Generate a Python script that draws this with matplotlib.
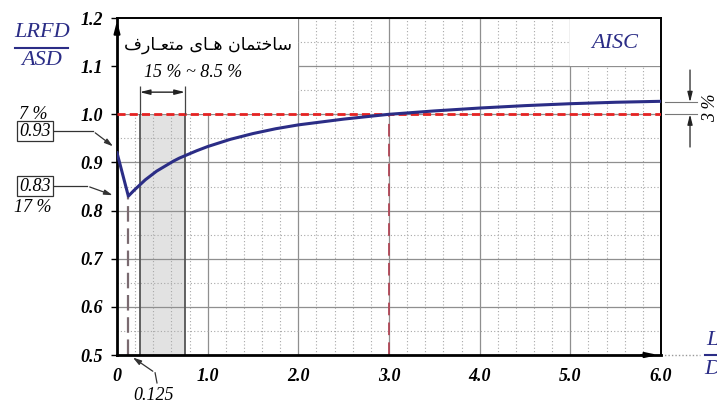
import numpy as np
import matplotlib.pyplot as plt
from matplotlib.patches import Rectangle

# داده ها: نسبت LRFD/ASD بر حسب L/D (خوانده شده از نمودار)
LD = [0, 0.125, 0.1875, 0.25, 0.3125, 0.375, 0.4375, 0.5, 0.5625, 0.625, 0.6875, 0.75,
      0.875, 1.0, 1.25, 1.5, 1.75, 2.0, 2.5, 3.0, 3.5, 4.0, 4.5, 5.0, 5.5, 6.0]
ratio = [0.92, 0.83, 0.842, 0.853, 0.864, 0.873, 0.882, 0.889, 0.896, 0.903, 0.909, 0.914,
         0.924, 0.933, 0.948, 0.96, 0.97, 0.978, 0.99, 1.0,
         1.007, 1.013, 1.018, 1.022, 1.025, 1.027]

x_ticks = [0, 1, 2, 3, 4, 5, 6]
x_labels = ['0', '1.0', '2.0', '3.0', '4.0', '5.0', '6.0']
y_ticks = [0.5, 0.6, 0.7, 0.8, 0.9, 1.0, 1.1, 1.2]
y_labels = ['0.5', '0.6', '0.7', '0.8', '0.9', '1.0', '1.1', '1.2']

LD_min, ratio_min = 0.125, 0.83      # کمینه
ratio_start = 0.93
common_lo, common_hi = 0.25, 0.75     # ساختمان های متعارف
LD_equal = 3.0                        # LRFD = ASD
ratio_end = 1.025

# ساختمان هـای متعـارف  (presentation forms, visual order)
farsi = '\uFED1\uFEAD\uFE8E\u0640\uFECC\uFE98\uFEE3 \uFBFC\uFE8E\u0640\uFEEB \uFEE5\uFE8E\uFEE4\uFE98\uFEA7\uFE8E\uFEB3'

blue = '#2b2d86'
serif = 'Liberation Serif'
lab = dict(fontfamily=serif, fontstyle='italic', fontsize=13)

fig = plt.figure(figsize=(7.17, 4.03), dpi=100)
ax = fig.add_axes([0.1632, 0.1191, 0.7587, 0.8362])
ax.set_xlim(0, 6)
ax.set_ylim(0.5, 1.2)

# شبکه
ax.set_axisbelow(True)
ax.set_xticks(x_ticks)
ax.set_yticks(y_ticks)
ax.set_xticks(np.arange(0.2, 6, 0.2), minor=True)
ax.set_yticks(np.arange(0.55, 1.2, 0.1), minor=True)
ax.grid(which='major', color='#8f8f8f', lw=0.9)
ax.grid(which='minor', color='#a8a8a8', lw=0.8, linestyle=(0, (1, 2)))

# ناحیه ساختمان های متعارف
ax.add_patch(Rectangle((common_lo, 0.5), common_hi - common_lo, 0.5, facecolor='#e2e2e2',
                       edgecolor='none', zorder=0.3))
ax.vlines([common_lo, common_hi], 0.5, 1.0, color='#555555', lw=1.3, zorder=1.5)
# نواحی سفید پشت متن ها
ax.add_patch(Rectangle((0, 1.0), 2.0, 0.2, facecolor='white', edgecolor='none', zorder=0.6))
ax.add_patch(Rectangle((5.0, 1.1), 1.0, 0.1, facecolor='white', edgecolor='none', zorder=0.6))

ax.set_xticklabels(x_labels, fontweight='bold', **lab)
ax.set_yticklabels(y_labels, fontweight='bold', **lab)
ax.tick_params(axis='y', which='major', length=4, width=1, pad=6)
ax.tick_params(axis='x', which='major', length=0, pad=9)
ax.tick_params(which='minor', length=0)

for s in ['left', 'bottom']:
    ax.spines[s].set_linewidth(2)
for s in ['top', 'right']:
    ax.spines[s].set_linewidth(1.4)

# خطوط مرجع
ax.axhline(1.0, color='#e52222', lw=2, linestyle=(0, (2.9, 1.5)), zorder=3)
ax.vlines(LD_equal, 0.5, 1.0, color='#b04555', lw=1.3, linestyles=(0, (7, 4)), zorder=2)
ax.vlines(LD_min, 0.5, ratio_min, color='#7a6a70', lw=1.6, linestyles=(0, (7, 3)), zorder=2)

# منحنی
ax.plot(LD, ratio, color=blue, lw=2.2, zorder=4, solid_joinstyle='round')

# پیکان محورها
ax.annotate('', xy=(0, 1.2), xytext=(0, 1.16),
            arrowprops=dict(arrowstyle='-|>,head_length=0.7,head_width=0.18', color='k', lw=1.5),
            annotation_clip=False)
ax.annotate('', xy=(6.0, 0.5), xytext=(5.75, 0.5),
            arrowprops=dict(arrowstyle='-|>,head_length=0.7,head_width=0.15', color='k', lw=1.5),
            annotation_clip=False)
ax.plot([6.0, 6.43], [0.5, 0.5], color='#999999', lw=1, linestyle=(0, (1, 1.5)), clip_on=False)

# برچسب محورها
big = dict(color=blue, fontfamily=serif, fontstyle='italic', fontsize=16, ha='center', va='center')
ax.text(-0.83, 1.169, 'LRFD', **big)
ax.plot([-1.13, -0.54], [1.138, 1.138], color=blue, lw=1.5, clip_on=False)
ax.text(-0.83, 1.111, 'ASD', **big)
ax.text(6.57, 0.531, 'L', **big)
ax.plot([6.48, 6.7], [0.5, 0.5], color=blue, lw=1.5, clip_on=False)
ax.text(6.57, 0.469, 'D', **big)
ax.text(5.49, 1.148, 'AISC', **big)

# مقادیر کمینه و شروع
box = dict(boxstyle='square,pad=0.1', facecolor='white', edgecolor='#333333', lw=0.9)
arr = dict(arrowstyle='-|>,head_length=0.5,head_width=0.15', color='#333333', lw=0.9)
ax.text(-0.926, 0.999, '7 %', ha='center', va='center', **lab)
ax.text(-0.904, 0.965, f'{ratio_start:.2f}', ha='center', va='center', bbox=box, **lab)
ax.plot([-0.69, -0.265], [0.965, 0.965], color='#333333', lw=0.9, clip_on=False)
ax.annotate('', xy=(-0.02, ratio_start), xytext=(-0.265, 0.965), arrowprops=arr,
            annotation_clip=False)

ax.text(-0.904, 0.851, f'{ratio_min:.2f}', ha='center', va='center', bbox=box, **lab)
ax.text(-0.926, 0.807, '17 %', ha='center', va='center', **lab)
ax.plot([-0.69, -0.33], [0.851, 0.851], color='#333333', lw=0.9, clip_on=False)
ax.annotate('', xy=(-0.02, ratio_min), xytext=(-0.33, 0.851), arrowprops=arr,
            annotation_clip=False)

ax.text(0.408, 0.415, f'{LD_min}', ha='center', va='center', **lab)
ax.plot([0.441, 0.42], [0.442, 0.463], color='#333333', lw=0.9, clip_on=False)
ax.annotate('', xy=(0.15, 0.498), xytext=(0.42, 0.463), arrowprops=arr,
            annotation_clip=False)

# ساختمان های متعارف
ax.text(1.0, 1.144, farsi, fontfamily=['DejaVu Sans'], fontsize=12.5, ha='center', va='center')
ax.text(0.838, 1.086, '15 % ~ 8.5 %', ha='center', va='center', **lab)
ax.vlines([common_lo, common_hi], 1.0, 1.058, color='#444444', lw=0.9, zorder=3)
ax.annotate('', xy=(common_lo, 1.046), xytext=(common_hi, 1.046),
            arrowprops=dict(arrowstyle='<|-|>,head_length=0.6,head_width=0.15', color='#222222', lw=1.0,
                            shrinkA=0, shrinkB=0))

# اختلاف 3 درصد
ax.plot([6.04, 6.4], [ratio_end, ratio_end], color='#777777', lw=0.8, clip_on=False)
ax.plot([6.04, 6.4], [1.0, 1.0], color='#777777', lw=0.8, clip_on=False)
ax.annotate('', xy=(6.32, ratio_end), xytext=(6.32, 1.092),
            arrowprops=dict(arrowstyle='-|>,head_length=0.6,head_width=0.15', color='#222222', lw=0.9,
                            shrinkA=0, shrinkB=0), annotation_clip=False)
ax.annotate('', xy=(6.32, 1.0), xytext=(6.32, 0.932),
            arrowprops=dict(arrowstyle='-|>,head_length=0.6,head_width=0.15', color='#222222', lw=0.9,
                            shrinkA=0, shrinkB=0), annotation_clip=False)
ax.text(6.55, 1.013, '3 %', rotation=90, ha='center', va='center', **lab)

fig.savefig('out.png', dpi=100)
